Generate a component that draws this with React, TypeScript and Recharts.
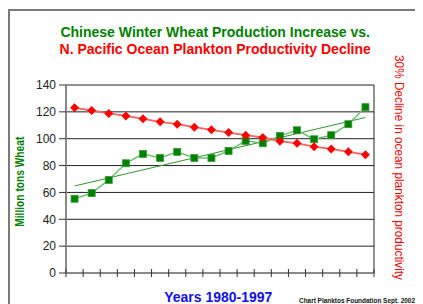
import React from "react";
import { LineChart, Line, XAxis, YAxis, CartesianGrid } from "recharts";

const years = [1980, 1981, 1982, 1983, 1984, 1985, 1986, 1987, 1988, 1989, 1990, 1991, 1992, 1993, 1994, 1995, 1996, 1997];
const wheat = [55.3, 59.5, 69.3, 81.7, 88.7, 85.7, 90.2, 85.7, 85.7, 90.9, 98.4, 96.6, 102.1, 106.3, 99.6, 102.6, 110.8, 123.5];
const plankton = [123, 121, 118.8, 117, 114.8, 112.6, 110.8, 108.6, 106.6, 104.6, 102.6, 100.9, 98.2, 96.6, 94.1, 92.4, 90.2, 88.1];
const wheatTrend: (number | null)[] = [64.8, null, null, null, null, null, null, null, null, null, null, null, null, null, null, null, null, 115.8];
const yTicks = [0, 20, 40, 60, 80, 100, 120, 140];
const xBoundaries = [0, 1, 2, 3, 4, 5, 6, 7, 8, 9, 10, 11, 12, 13, 14, 15, 16, 17, 18];

const data = years.map((year, i) => ({
  pos: i + 0.5,
  year,
  wheat: wheat[i],
  plankton: plankton[i],
  trend: wheatTrend[i],
}));

const SquareDot = (props: any) => {
  const { cx, cy } = props;
  if (cx == null || cy == null) return null;
  return <rect x={cx - 3.5} y={cy - 3.5} width={7} height={7} fill="#008000" stroke="#3a9a3a" strokeWidth={0.8} />;
};

const DiamondDot = (props: any) => {
  const { cx, cy } = props;
  if (cx == null || cy == null) return null;
  const r = 4.5;
  return <polygon points={`${cx},${cy - r} ${cx + r},${cy} ${cx},${cy + r} ${cx - r},${cy}`} fill="#ff0000" />;
};

const CrossTick = (props: any) => {
  const { x, y } = props;
  return <line x1={x} x2={x} y1={y - 4} y2={y + 4} stroke="#333" strokeWidth={1} />;
};

const font = '"Liberation Sans", Arial, sans-serif';

export default function App() {
  return (
    <div style={{ position: "relative", width: 415, height: 296, overflow: "hidden", fontFamily: font }}>
      <div
        style={{
          position: "absolute",
          left: 0,
          top: 1,
          width: 440,
          height: 320,
          borderLeft: "2px solid #7a7a7a",
          borderTop: "2px solid #7a7a7a",
        }}
      />
      <div style={{ position: "absolute", left: 0, top: 0 }}>
        <LineChart width={415} height={296} data={data} margin={{ top: 77, right: 39, bottom: 21, left: 18 }}>
          <CartesianGrid vertical={false} stroke="#222" strokeWidth={1} />
          <XAxis
            type="number"
            dataKey="pos"
            domain={[0, 18]}
            ticks={xBoundaries}
            interval={0}
            height={10}
            tickSize={0}
            tickMargin={0}
            tickLine={false}
            tick={<CrossTick />}
            axisLine={{ stroke: "#8a8a8a", strokeWidth: 2 }}
          />
          <YAxis
            domain={[0, 140]}
            ticks={yTicks}
            width={40}
            tickSize={7}
            tickMargin={3}
            tick={{ fill: "#222", fontSize: 12, fontFamily: font }}
            tickLine={{ stroke: "#333" }}
            axisLine={{ stroke: "#8a8a8a", strokeWidth: 2 }}
          />
          <YAxis
            yAxisId="right"
            orientation="right"
            domain={[0, 140]}
            width={10}
            tick={false}
            tickLine={false}
            axisLine={{ stroke: "#222", strokeWidth: 1 }}
          />
          <Line
            dataKey="trend"
            connectNulls
            stroke="#2f962f"
            strokeWidth={1}
            dot={false}
            activeDot={false}
            isAnimationActive={false}
          />
          <Line
            dataKey="wheat"
            stroke="#6cc06c"
            strokeWidth={1.5}
            dot={<SquareDot />}
            activeDot={false}
            isAnimationActive={false}
          />
          <Line
            yAxisId="right"
            dataKey="plankton"
            stroke="#ff6060"
            strokeWidth={1.8}
            dot={<DiamondDot />}
            activeDot={false}
            isAnimationActive={false}
          />
        </LineChart>
      </div>
      <svg
        width={415}
        height={296}
        style={{ position: "absolute", left: 0, top: 0, pointerEvents: "none" }}
        fontFamily={font}
      >
        <text x={207.2} y={29.3} textAnchor="middle" fontSize={14} fontWeight="bold" fill="#008000">
          Chinese Winter Wheat Production Increase vs.
        </text>
        <text x={207.2} y={46} textAnchor="middle" fontSize={14} fontWeight="bold" fill="#ff0000">
          N. Pacific Ocean Plankton Productivity Decline
        </text>
        <text
          x={16}
          y={173.7}
          transform="rotate(-90, 16, 173.7)"
          textAnchor="middle"
          fontSize={13}
          fontWeight="bold"
          fill="#008000"
          textLength={90}
          lengthAdjust="spacingAndGlyphs"
        >
          Million tons Wheat
        </text>
        <text
          x={159.5}
          y={0}
          transform="translate(387, 0) rotate(90, 0, 0)"
          textAnchor="middle"
          fontSize={12.5}
          fill="#ff0000"
          textLength={225}
          lengthAdjust="spacingAndGlyphs"
        >
          30% Decline in ocean plankton productivity
        </text>
        <text x={210.3} y={293.7} textAnchor="middle" fontSize={14} fontWeight="bold" fill="#1010ee">
          Years 1980-1997
        </text>
        <text
          x={291}
          y={295.3}
          fontSize={6.5}
          fontWeight="bold"
          fill="#111"
          textLength={116}
          lengthAdjust="spacingAndGlyphs"
        >
          Chart Planktos Foundation Sept. 2002
        </text>
      </svg>
    </div>
  );
}
